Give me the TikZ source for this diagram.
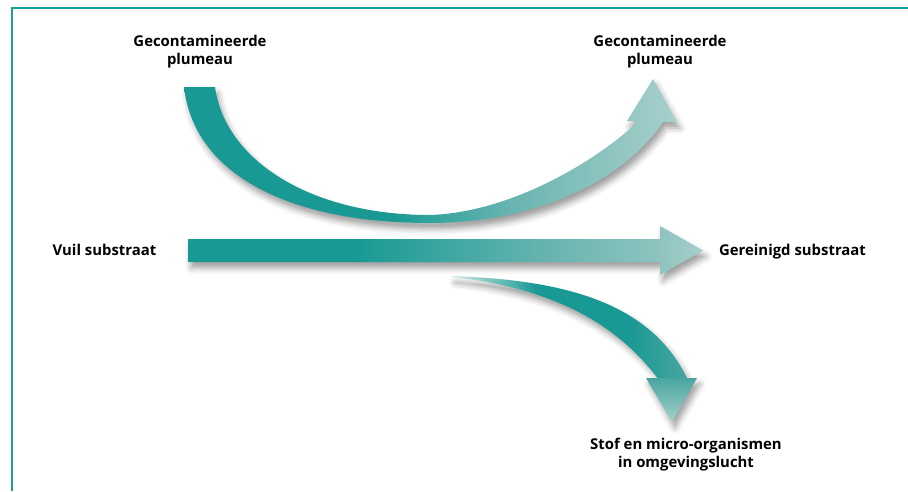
\documentclass[tikz,border=0pt]{standalone}
\usepackage{fontspec}
\setmainfont{Open Sans}
\usepackage{xcolor}
\usetikzlibrary{shadows.blur}

\definecolor{tealdonker}{RGB}{24,153,148}
\definecolor{tealmidden}{RGB}{104,180,176}
\definecolor{tealhalf}{RGB}{72,165,160}
\definecolor{tealbleek}{RGB}{143,196,192}
\definecolor{teallicht}{RGB}{166,208,204}
\definecolor{tealvaag}{RGB}{210,233,231}
\definecolor{kaderkleur}{RGB}{26,160,155}

% sfumature delle frecce (25bp = bordo sinistro, 75bp = bordo destro)
\pgfdeclarehorizontalshading{bovenpijl}{100bp}{color(0bp)=(tealdonker); color(25bp)=(tealdonker); color(46bp)=(tealdonker); color(58bp)=(tealmidden); color(68bp)=(tealbleek); color(75bp)=(teallicht); color(100bp)=(teallicht)}
\pgfdeclarehorizontalshading{middenpijl}{100bp}{color(0bp)=(tealdonker); color(25bp)=(tealdonker); color(41bp)=(tealdonker); color(60bp)=(tealmidden); color(71bp)=(tealbleek); color(75bp)=(teallicht); color(100bp)=(teallicht)}
\pgfdeclarehorizontalshading{onderpijl}{100bp}{color(0bp)=(tealvaag); color(25bp)=(tealvaag); color(43bp)=(tealdonker); color(62bp)=(tealdonker); color(75bp)=(tealhalf); color(100bp)=(tealhalf)}

\begin{document}
\begin{tikzpicture}[x=1pt, y=-1pt,
    tekst/.style={font=\bfseries\fontsize{14.9}{18}\selectfont, align=center, inner sep=0pt},
    schaduw/.style={blur shadow={shadow xshift=3pt, shadow yshift=-6pt, shadow blur radius=6pt, shadow opacity=38}}]
    \useasboundingbox (0,0) rectangle (908,491);

    % Cornice
    \draw[kaderkleur, line width=1.6pt] (12,491) -- (12,8) -- (908,8);

    % Etichette
    \node[tekst] (pluimlinks) at (200,52) {Gecontamineerde\\plumeau};
    \node[tekst] (pluimrechts) at (660,52) {Gecontamineerde\\plumeau};
    \node[tekst, anchor=base] (vuil) at (104.5,255) {Vuil substraat};
    \node[tekst, anchor=base] (gereinigd) at (792.5,255) {Gereinigd substraat};
    \node[tekst] (stof) at (686,455) {Stof en micro-organismen\\in omgevingslucht};

    % Freccia curva in alto
    \path[schaduw, shading=bovenpijl] (184,87) .. controls (194,175) and (290,223) .. (430,223)
        .. controls (530,223) and (620,185) .. (663,122) -- (677,122) -- (653,79) -- (627,121) -- (638,121)
        .. controls (610,150) and (520,212) .. (430,215) .. controls (310,215) and (225,160) .. (215,87) -- cycle;

    % Freccia diritta
    \path[schaduw, shading=middenpijl] (188,239) -- (660,239) -- (660,226) -- (703,250.5)
        -- (660,275) -- (660,262) -- (188,262) -- cycle;

    % Freccia curva in basso
    \path[schaduw] (452,276) .. controls (560,280) and (650,300) .. (687,378) -- (697,378) -- (672,422)
        -- (646,378) -- (660,378) .. controls (625,335) and (570,290) .. (452,277) -- cycle;
    \path[shading=onderpijl] (452,276) .. controls (560,280) and (650,300) .. (688,380)
        -- (659,380) .. controls (625,335) and (570,290) .. (452,277) -- cycle;
    \path[top color=tealhalf, bottom color=teallicht] (646,378) -- (697,378) -- (672,422) -- cycle;
\end{tikzpicture}
\end{document}
